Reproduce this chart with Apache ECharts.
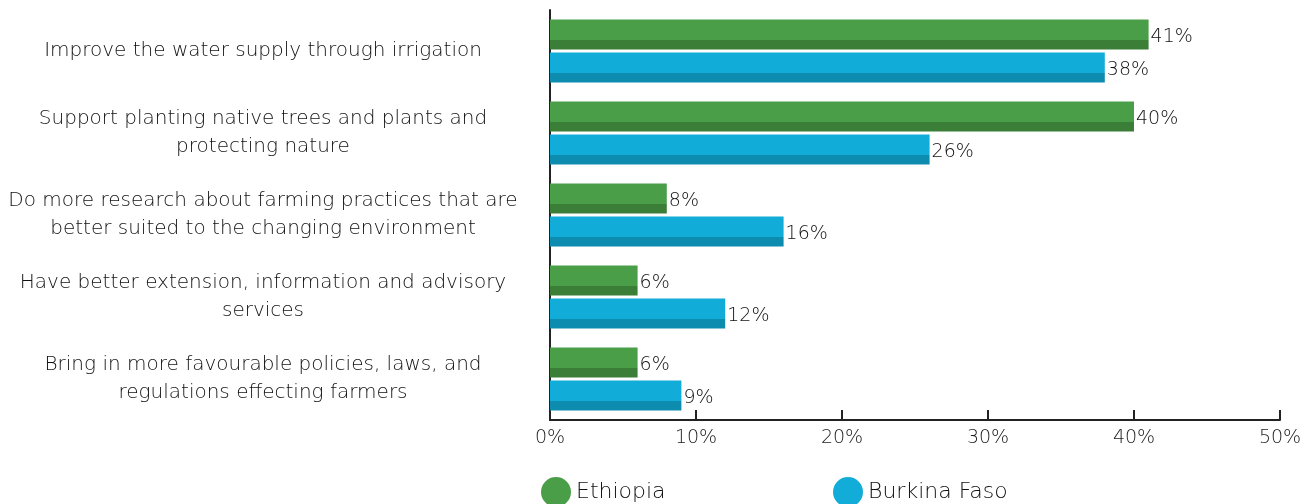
<!DOCTYPE html>
<html><head><meta charset="utf-8">
<script src="https://cdn.jsdelivr.net/npm/echarts@6/dist/echarts.min.js"></script>
<style>html,body{margin:0;padding:0;background:#fff}#c{width:1312px;height:504px}</style>
</head><body><div id="c"></div>
<script>
const categories = [
  "Improve the water supply through irrigation",
  "Support planting native trees and plants and\nprotecting nature",
  "Do more research about farming practices that are\nbetter suited to the changing environment",
  "Have better extension, information and advisory\nservices",
  "Bring in more favourable policies, laws, and\nregulations effecting farmers"
];
const ethiopia = [41, 40, 8, 6, 6];
const burkina = [38, 26, 16, 12, 9];
const seriesNames = ["Ethiopia", "Burkina Faso"];
const xTicks = [0, 10, 20, 30, 40, 50];

function twoTone(light, dark) {
  return new echarts.graphic.LinearGradient(0, 0, 0, 1, [
    {offset: 0, color: light}, {offset: 0.667, color: light},
    {offset: 0.667, color: dark}, {offset: 1, color: dark}
  ]);
}
const FONT = "DejaVu Sans";
const W = 200;
const TXT = '#111';
const chart = echarts.init(document.getElementById('c'));
const lbl = {show: true, position: 'right', distance: 2, offset: [0, 3], formatter: '{c}%', color: TXT, fontSize: 19, fontFamily: FONT, fontWeight: W};
chart.setOption({
  animation: false,
  grid: {left: 550, right: 32, top: 10, bottom: 84, containLabel: false},
  legend: [
    {data: [{name: seriesNames[0], itemStyle: {color: '#4a9e47'}}], left: 536, top: 472, icon: 'circle', itemWidth: 30, itemHeight: 30, itemGap: 6,
     textStyle: {fontSize: 22, color: TXT, fontFamily: FONT, fontWeight: W}},
    {data: [{name: seriesNames[1], itemStyle: {color: '#12acd8'}}], left: 828, top: 472, icon: 'circle', itemWidth: 30, itemHeight: 30, itemGap: 6,
     textStyle: {fontSize: 22, color: TXT, fontFamily: FONT, fontWeight: W}}
  ],
  xAxis: {
    type: 'value', min: xTicks[0], max: xTicks[xTicks.length - 1], interval: 10,
    axisLine: {show: true, lineStyle: {color: '#222', width: 2}},
    axisTick: {show: true, inside: true, length: 10, lineStyle: {color: '#222', width: 2}},
    splitLine: {show: false},
    axisLabel: {formatter: '{value}%', color: '#222', fontSize: 19, fontFamily: FONT, fontWeight: W, margin: 9}
  },
  yAxis: {
    type: 'category', data: categories, inverse: true,
    axisLine: {show: true, lineStyle: {color: '#222', width: 2}},
    axisTick: {show: false},
    axisLabel: {align: 'center', margin: 287, padding: [4, 0, 0, 0], color: TXT, fontSize: 20, lineHeight: 28, fontFamily: FONT, fontWeight: W}
  },
  series: [
    {name: seriesNames[0], type: 'bar', data: ethiopia, barWidth: 30, barGap: '10%', barCategoryGap: '23%',
     itemStyle: {color: twoTone('#4a9e47', '#3b7e38')}, label: lbl},
    {name: seriesNames[1], type: 'bar', data: burkina, barWidth: 30, barGap: '10%',
     itemStyle: {color: twoTone('#12acd8', '#0e8cb0')}, label: lbl}
  ]
});
</script></body></html>
